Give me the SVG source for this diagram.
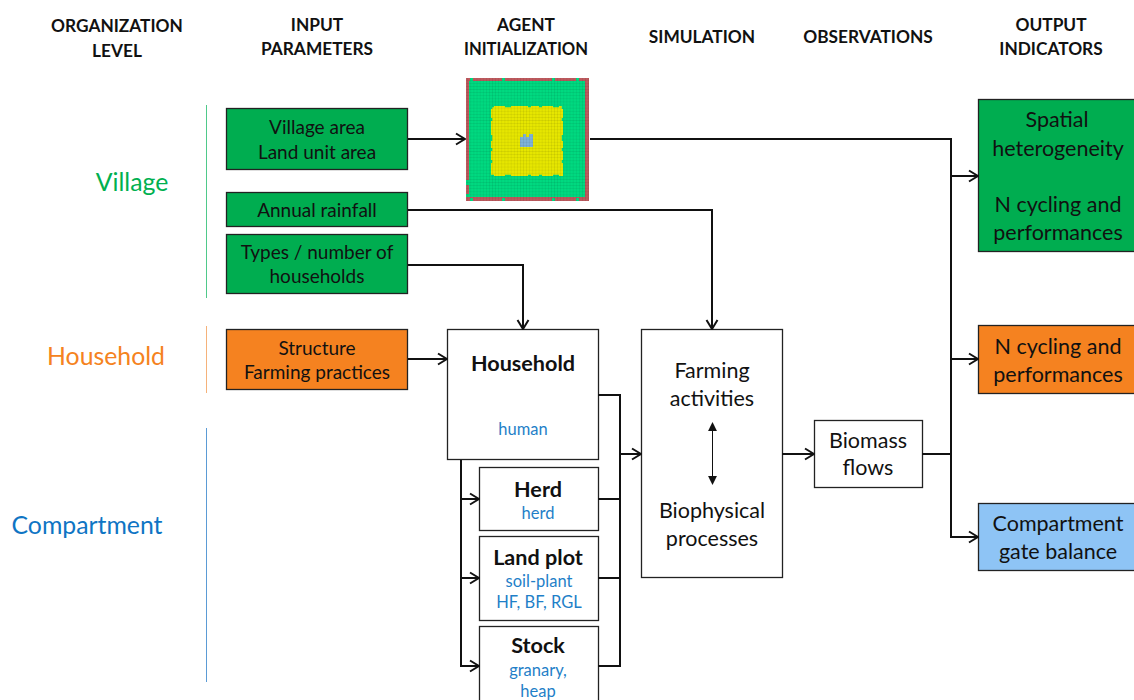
<svg xmlns="http://www.w3.org/2000/svg" width="1134" height="700" viewBox="0 0 1134 700">
<style>
text{font-family:Lato,Carlito,"Liberation Sans",sans-serif;text-anchor:middle;fill:#111}
.h{font-size:17.300px;font-weight:700;transform:translateY(1px)}
.n{font-size:19px;transform:translateY(1px)}
.m{font-size:21.500px}
.b{font-size:21.600px;font-weight:700}
.s{font-size:16.500px;fill:#1f7fc8}
.l{font-size:24.800px}
.box{stroke:#222;stroke-width:1.300}
.w{fill:#fff}.g{fill:#00ad50}.o{fill:#f58220}.c{fill:#8ec4f5}
.con{fill:none;stroke:#111;stroke-width:2}
.dbl{fill:none;stroke:#111;stroke-width:1}
.notch{fill:none;stroke:#00d980;stroke-width:3}
</style>
<defs>
<marker id="a" viewBox="0 0 14 14" refX="13" refY="7" markerWidth="14" markerHeight="14" markerUnits="userSpaceOnUse" orient="auto"><path d="M4 1.500L13 7L4 12.500" fill="none" stroke="#111" stroke-width="2"/></marker>
<marker id="t" viewBox="0 0 10 10" refX="9" refY="5" markerWidth="9" markerHeight="9" markerUnits="userSpaceOnUse" orient="auto-start-reverse"><path d="M0 0L10 5L0 10z" fill="#111"/></marker>
<pattern id="grid" width="3.100" height="3.100" patternUnits="userSpaceOnUse"><path d="M3.100 0V3.100M0 3.100H3.100" stroke="#000" stroke-opacity=".16" stroke-width=".7" fill="none"/></pattern>
</defs>
<g id="headers">
<text class="h" x="117" y="31">ORGANIZATION</text><text class="h" x="117" y="56">LEVEL</text>
<text class="h" x="317" y="30">INPUT</text><text class="h" x="317" y="54">PARAMETERS</text>
<text class="h" x="526" y="30">AGENT</text><text class="h" x="526" y="54" style="font-size:16.600px">INITIALIZATION</text>
<text class="h" x="702" y="42">SIMULATION</text>
<text class="h" x="868" y="42">OBSERVATIONS</text>
<text class="h" x="1051" y="30">OUTPUT</text><text class="h" x="1051" y="54">INDICATORS</text>
</g>
<g id="levels">
<path d="M206.500 105V298" stroke="#4fc98a" stroke-width="1" fill="none"/>
<path d="M206.500 326V393" stroke="#f5b27a" stroke-width="1" fill="none"/>
<path d="M206.500 428V682" stroke="#5b9bd5" stroke-width="1" fill="none"/>
<text class="l" x="132" y="191" style="fill:#00b050">Village</text>
<text class="l" x="106" y="365" style="fill:#f58220">Household</text>
<text class="l" x="87" y="534" style="fill:#0f75c4">Compartment</text>
</g>
<g id="agent-grid">
<rect x="466" y="78" width="123" height="123" fill="#bd5a5e"/>
<rect x="469" y="81" width="116" height="116" fill="#00d980"/>
<path class="notch" d="M470 79.500H586M470 199.500H586" stroke-dasharray="3 29 3 47 3 21"/>
<path class="notch" d="M467.500 180V197" stroke-dasharray="5 9"/>
<rect x="491" y="106" width="72" height="70" fill="#e6e600"/>
<path d="M491 106.500H563M491 175.500H563" fill="none" stroke="#00d980" stroke-width="1.500" stroke-dasharray="3 11 6 17 3 8"/>
<path d="M491.500 106V176M562.500 106V176" fill="none" stroke="#00d980" stroke-width="1.500" stroke-dasharray="3 9 3 14 6 7"/>
<rect x="520" y="134" width="13" height="13" fill="#7fb2d6"/>
<rect x="520" y="134" width="3" height="3" fill="#e6e600"/><rect x="526" y="134" width="3" height="3" fill="#e6e600"/>
<rect x="466" y="78" width="123" height="123" fill="url(#grid)"/>
</g>
<g id="village-area"><rect class="box g" x="226.500" y="108.500" width="181" height="61"/><text class="n" x="317" y="133">Village area</text><text class="n" x="317" y="158">Land unit area</text></g>
<g id="annual-rainfall"><rect class="box g" x="226.500" y="192.500" width="181" height="34"/><text class="n" x="317" y="216">Annual rainfall</text></g>
<g id="types-households"><rect class="box g" x="226.500" y="234.500" width="181" height="59"/><text class="n" x="317" y="258">Types / number of</text><text class="n" x="317" y="282">households</text></g>
<g id="structure"><rect class="box o" x="226.500" y="329.500" width="181" height="60"/><text class="n" x="317" y="354">Structure</text><text class="n" x="317" y="378">Farming practices</text></g>
<g id="household"><rect class="box w" x="447.500" y="329.500" width="151" height="130"/><text class="b" x="523" y="371">Household</text><text class="s" x="523" y="435">human</text></g>
<g id="herd"><rect class="box w" x="479.500" y="467.500" width="119" height="63"/><text class="b" x="538" y="497">Herd</text><text class="s" x="538" y="519">herd</text></g>
<g id="land-plot"><rect class="box w" x="479.500" y="536.500" width="119" height="84"/><text class="b" x="538" y="565">Land plot</text><text class="s" x="539" y="587">soil-plant</text><text class="s" x="539" y="608">HF, BF, RGL</text></g>
<g id="stock"><rect class="box w" x="479.500" y="626.500" width="119" height="80"/><text class="b" x="538" y="653">Stock</text><text class="s" x="538" y="676">granary,</text><text class="s" x="538" y="697">heap</text></g>
<g id="simulation"><rect class="box w" x="641.500" y="329.500" width="141" height="248"/><text class="m" x="712" y="378">Farming</text><text class="m" x="712" y="406">activities</text><text class="m" x="712" y="518">Biophysical</text><text class="m" x="712" y="546">processes</text></g>
<g id="biomass"><rect class="box w" x="814.500" y="420.500" width="108" height="67"/><text class="m" x="868" y="448">Biomass</text><text class="m" x="868" y="475">flows</text></g>
<g id="out-village"><rect class="box g" x="978.500" y="99.500" width="160" height="152"/><text class="m" x="1057" y="127">Spatial</text><text class="m" x="1058" y="156">heterogeneity</text><text class="m" x="1058" y="212">N cycling and</text><text class="m" x="1058" y="240">performances</text></g>
<g id="out-household"><rect class="box o" x="978.500" y="325.500" width="160" height="68"/><text class="m" x="1058" y="354">N cycling and</text><text class="m" x="1058" y="382">performances</text></g>
<g id="out-compartment"><rect class="box c" x="978.500" y="503.500" width="160" height="67"/><text class="m" x="1058" y="531">Compartment</text><text class="m" x="1058" y="559">gate balance</text></g>
<g id="connectors">
<path class="con" d="M408 139H465" marker-end="url(#a)"/>
<path class="con" d="M590 139H951V537H978" marker-end="url(#a)"/>
<path class="con" d="M951 176H978" marker-end="url(#a)"/>
<path class="con" d="M951 359H978" marker-end="url(#a)"/>
<path class="con" d="M408 210H712V329" marker-end="url(#a)"/>
<path class="con" d="M408 265H523V329" marker-end="url(#a)"/>
<path class="con" d="M408 359H447" marker-end="url(#a)"/>
<path class="con" d="M598 395H620V666H598"/>
<path class="con" d="M598 499H620M598 578H620"/>
<path class="con" d="M620 454H641" marker-end="url(#a)"/>
<path class="con" d="M461 460V666H479" marker-end="url(#a)"/>
<path class="con" d="M461 499H479" marker-end="url(#a)"/>
<path class="con" d="M461 578H479" marker-end="url(#a)"/>
<path class="con" d="M782 454H814" marker-end="url(#a)"/>
<path class="con" d="M922 454H951"/>
<path class="dbl" d="M712.500 423V484" marker-start="url(#t)" marker-end="url(#t)"/>
</g>
</svg>
